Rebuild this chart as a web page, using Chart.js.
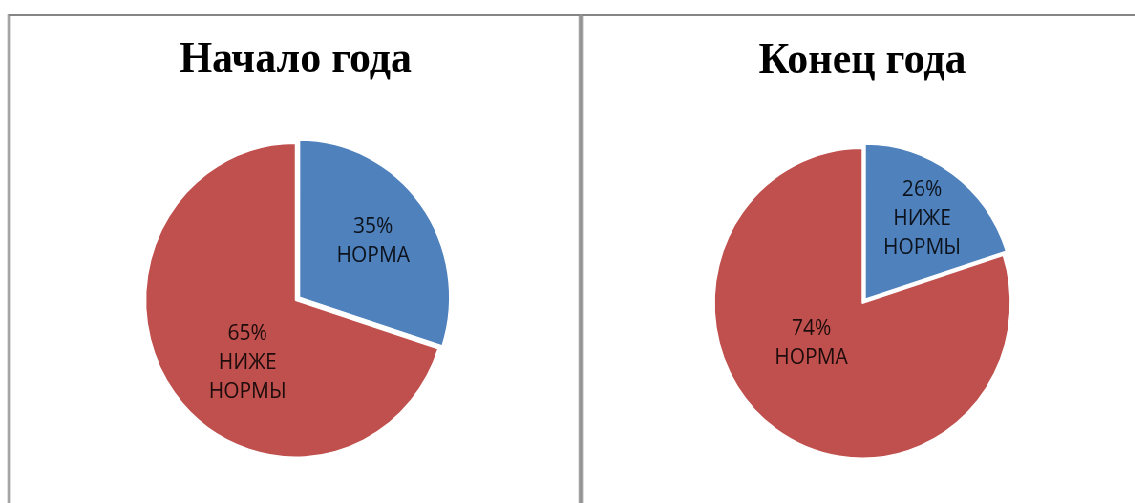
<!DOCTYPE html>
<html>
<head>
<meta charset="utf-8">
<script src="https://cdn.jsdelivr.net/npm/chart.js@4/dist/chart.umd.min.js"></script>
<style>
  body { margin:0; background:#fff; overflow:hidden; width:1135px; height:503px; }
  #wrap { position:absolute; left:0; top:0; width:1200px; height:600px; transform:scaleX(0.955); transform-origin:0 0; }
  .panel { position:absolute; box-sizing:border-box; border:2px solid #858585; height:620px; }
  #panel1 { left:8.4px; top:13.5px; width:600px; }
  #panel2 { left:608.4px; top:14px; width:700px; }
  .box { position:absolute; top:0; height:600px; }
  #box1 { left:0; width:619px; }
  #box2 { left:608px; width:590px; }
</style>
</head>
<body>
<div id="wrap">
  <div class="panel" id="panel1"></div>
  <div class="panel" id="panel2"></div>
  <div class="box" id="box1"><canvas id="chart1"></canvas></div>
  <div class="box" id="box2"><canvas id="chart2"></canvas></div>
</div>
<script>
// данные: начало года
const titles = ['Начало года', 'Конец года']
const categories1 = ['НОРМА', 'НИЖЕ НОРМЫ']
const values1 = [30, 70]
const pctLabels1 = ['35%', '65%']
// данные: конец года
const categories2 = ['НИЖЕ НОРМЫ', 'НОРМА']
const values2 = [20, 80]
const pctLabels2 = ['26%', '74%']

const blue = '#4F81BD'
const red = '#C0504D'

// where the label sits inside the slice: t = fraction along the arc, f = fraction of radius
const labelPlace1 = [{t:0.5, f:0.64}, {t:0.44, f:0.51}]
const labelPlace2 = [{t:0.51, f:0.675}, {t:0.56, f:0.43}]

const sliceLabels = {
  id:'sliceLabels',
  afterDatasetsDraw(chart, args, opts){
    const ctx = chart.ctx
    const meta = chart.getDatasetMeta(0)
    ctx.save()
    ctx.font = '21px "Open Sans"'
    ctx.fillStyle = 'rgba(0,0,0,0.85)'
    ctx.textAlign = 'center'
    ctx.textBaseline = 'middle'
    meta.data.forEach((arc, i) => {
      const p = arc.getProps(['x','y','startAngle','endAngle','outerRadius'])
      const place = opts.place[i]
      const a = p.startAngle + (p.endAngle - p.startAngle) * place.t
      const cx = p.x + Math.cos(a) * p.outerRadius * place.f
      const cy = p.y + Math.sin(a) * p.outerRadius * place.f
      const lines = [opts.pct[i]].concat(opts.names[i].split(' '))
      const lh = 29
      lines.forEach((txt, k) => {
        ctx.fillText(txt, cx, cy + (k - (lines.length - 1) / 2) * lh)
      })
    })
    ctx.restore()
  }
}

function makePie(id, title, names, values, pct, place, radius, titleTop, padBottom){
  return new Chart(document.getElementById(id), {
    type:'pie',
    data:{
      labels:names,
      datasets:[{
        data:values,
        backgroundColor:[blue, red],
        borderColor:'#fff',
        borderWidth:1.5,
        offset:[20, 0]   // первый сектор выдвинут
      }]
    },
    options:{
      responsive:true,
      maintainAspectRatio:false,
      animation:false,
      radius:radius,
      layout:{ padding:{ bottom:padBottom } },
      plugins:{
        legend:{ display:false },
        tooltip:{ enabled:false },
        title:{
          display:true,
          text:title,
          color:'#000',
          font:{ family:'"Liberation Serif", "Times New Roman", serif', size:44, weight:'bold' },
          padding:{ top:titleTop, bottom:10 }
        },
        sliceLabels:{ names:names, pct:pct, place:place }
      }
    },
    plugins:[sliceLabels]
  })
}

makePie('chart1', titles[0], categories1, values1, pctLabels1, labelPlace1, 157, 34, 96.3)
makePie('chart2', titles[1], categories2, values2, pctLabels2, labelPlace2, 155, 35, 91.3)
</script>
</body>
</html>
